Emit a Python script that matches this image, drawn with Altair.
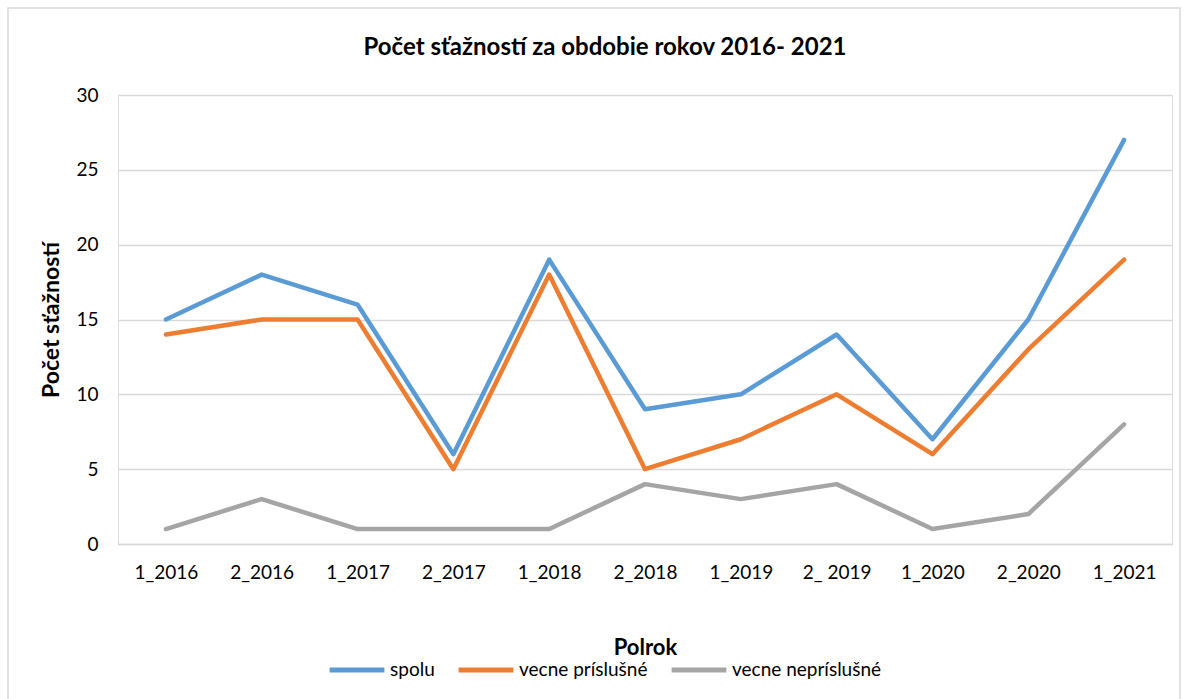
import altair as alt
import pandas as pd

categories = ["1_2016", "2_2016", "1_2017", "2_2017", "1_2018", "2_2018",
              "1_2019", "2_ 2019", "1_2020", "2_2020", "1_2021"]
spolu = [15, 18, 16, 6, 19, 9, 10, 14, 7, 15, 27]
prislusne = [14, 15, 15, 5, 18, 5, 7, 10, 6, 13, 19]
neprislusne = [1, 3, 1, 1, 1, 4, 3, 4, 1, 2, 8]
series_names = ["spolu", "vecne príslušné", "vecne nepríslušné"]
colors = ["#5B9BD5", "#ED7D31", "#A5A5A5"]
title_text = "Počet sťažností za obdobie rokov 2016- 2021"

rows = []
for name, vals in zip(series_names, [spolu, prislusne, neprislusne]):
    for i, (c, v) in enumerate(zip(categories, vals)):
        rows.append({"Polrok": c, "value": v, "series": name, "order": i})
df = pd.DataFrame(rows)

FONT = "Lato"

lines = alt.Chart(df).mark_line(strokeWidth=4.5, strokeJoin="round", strokeCap="round").encode(
    x=alt.X("Polrok:N", sort=categories, scale=alt.Scale(paddingInner=0, paddingOuter=0.5),
            axis=alt.Axis(title="Polrok", labelAngle=0, ticks=False, grid=False,
                          domain=True, domainColor="#D9D9D9", domainWidth=1.5,
                          labelPadding=19, titlePadding=55, labelFontSize=19,
                          titleFontSize=22, titleFontWeight="bold", labelColor="#000",
                          titleColor="#000", labelFont=FONT, titleFont=FONT)),
    y=alt.Y("value:Q", scale=alt.Scale(domain=[0, 30]),
            axis=alt.Axis(title="Počet sťažností", values=[0, 5, 10, 15, 20, 25, 30],
                          ticks=False, domain=False, gridColor="#D9D9D9", gridWidth=1.5,
                          labelPadding=20, titlePadding=12, labelFontSize=19,
                          titleFontSize=23, titleFontWeight="bold", labelColor="#000",
                          titleColor="#000", labelFont=FONT, titleFont=FONT)),
    color=alt.Color("series:N", sort=series_names,
                    scale=alt.Scale(domain=series_names, range=colors),
                    legend=alt.Legend(title=None, orient="none", direction="horizontal",
                                      legendX=209, legendY=545, symbolType="stroke",
                                      symbolStrokeWidth=5, symbolSize=3000,
                                      labelFontSize=19, labelFont=FONT, labelColor="#000",
                                      columnPadding=13, labelOffset=3)),
    order="order:Q",
)

border = alt.Chart(pd.DataFrame({"a": [0]})).mark_rect(
    fill="transparent", stroke="#D9D9D9", strokeWidth=1.5
).encode(
    x=alt.value(-110), x2=alt.value(1062), y=alt.value(-87), y2=alt.value(620)
)

title_mark = alt.Chart(pd.DataFrame({"t": [title_text]})).mark_text(
    font=FONT, fontSize=24, fontWeight="bold", color="#000", align="center", baseline="middle"
).encode(
    text="t:N", x=alt.value(487), y=alt.value(-47)
)

chart = alt.layer(border, lines, title_mark).properties(
    width=1054, height=449,
    padding={"left": 118, "top": 95, "right": 17, "bottom": 155},
    autosize=alt.AutoSizeParams(type="none"),
).configure_view(stroke=None).configure(background="white")

chart.save("out.html", embed_options={"renderer": "svg", "actions": False})
